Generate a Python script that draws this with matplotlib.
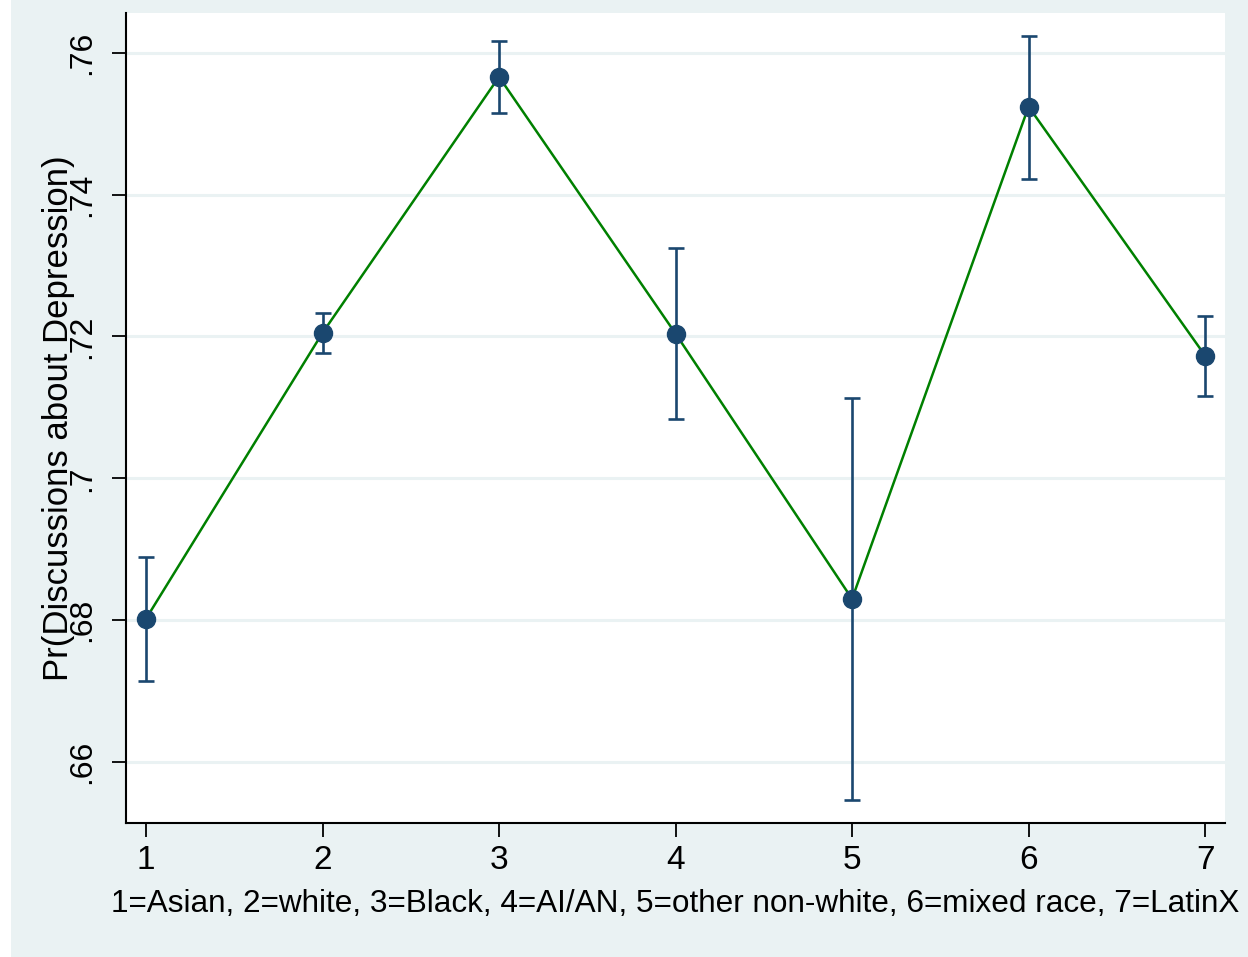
import matplotlib.pyplot as plt
from matplotlib.patches import Rectangle

plt.rcParams['font.family'] = ['Liberation Sans', 'DejaVu Sans']

groups = [1, 2, 3, 4, 5, 6, 7]
margins = [0.6802, 0.7205, 0.7566, 0.7204, 0.6830, 0.7524, 0.7173]
ci_low = [0.6714, 0.7177, 0.7515, 0.7084, 0.6546, 0.7422, 0.7116]
ci_high = [0.6889, 0.7233, 0.7616, 0.7324, 0.7113, 0.7624, 0.7229]
yticks = [0.66, 0.68, 0.70, 0.72, 0.74, 0.76]
ytick_labels = ['.66', '.68', '.7', '.72', '.74', '.76']

BG = '#EAF2F3'
NAVY = '#1A476F'
GREEN = '#008000'

fig = plt.figure(figsize=(12.48, 9.57), dpi=100, facecolor=BG)
fig.patches.append(Rectangle((0, 0), 11 / 1248, 1, transform=fig.transFigure,
                             facecolor='white', edgecolor='none', zorder=0))
ax = fig.add_axes([0.101, 0.140, 0.8806, 0.8464])
ax.set_facecolor('white')

for yv in yticks:
    ax.axhline(yv, color=BG, lw=2.2, zorder=1)

ax.plot(groups, margins, color=GREEN, lw=1.8, zorder=2)
err_lo = [m - l for m, l in zip(margins, ci_low)]
err_hi = [h - m for m, h in zip(margins, ci_high)]
ax.errorbar(groups, margins, yerr=[err_lo, err_hi], fmt='none', ecolor=NAVY,
            elinewidth=1.9, capsize=6, capthick=1.9, zorder=3)
ax.plot(groups, margins, 'o', color=NAVY, markersize=13, zorder=4)

ax.set_xlim(0.887, 7.113)
ax.set_ylim(0.6514, 0.7656)
ax.set_xticks(groups)
ax.set_yticks(yticks)
ax.set_yticklabels(ytick_labels, rotation=90, va='center')

for side in ['top', 'right']:
    ax.spines[side].set_visible(False)
for side in ['left', 'bottom']:
    ax.spines[side].set_linewidth(1.5)
ax.tick_params(axis='both', direction='out', length=10, width=1.3)
ax.tick_params(axis='x', pad=6, labelsize=24)
ax.tick_params(axis='y', pad=11, labelsize=23)

ax.set_xlabel('1=Asian, 2=white, 3=Black, 4=AI/AN, 5=other non-white, 6=mixed race, 7=LatinX',
              fontsize=22.7, labelpad=9)
ax.set_ylabel('Pr(Discussions about Depression)', fontsize=25)
ax.yaxis.set_label_coords(-0.046, 0.5)

fig.savefig('out.png', dpi=100, facecolor=BG)
